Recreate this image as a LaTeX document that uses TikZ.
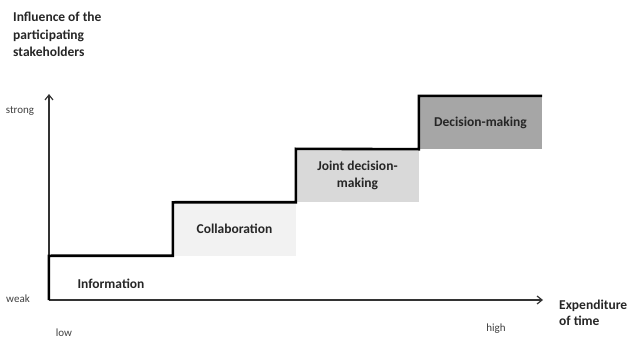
\documentclass[tikz,border=0pt]{standalone}
\usepackage{fontspec}
\setmainfont{Carlito}
\usepackage{tikz}
\usetikzlibrary{arrows.meta,positioning,calc}

\definecolor{collabgray}{HTML}{F2F2F2}
\definecolor{jointgray}{HTML}{D9D9D9}
\definecolor{decisiongray}{HTML}{A6A6A6}

\begin{document}
\begin{tikzpicture}[x=1pt, y=-1pt,
  stair/.style={rectangle, inner sep=0pt, minimum width=123pt, minimum height=53pt,
    align=center, font=\fontsize{13.5}{17}\selectfont\bfseries, text=black!85},
  axis/.style={line width=1.2pt, black!80, -{Straight Barb[length=5pt,width=8pt]}},
  stepline/.style={line width=2.6pt, black, line join=miter},
  tick/.style={inner sep=0pt, font=\fontsize{11}{13}\selectfont, text=black!75}]
\useasboundingbox (0,0) rectangle (630,340);

% boxes of the steps
\node[stair, minimum width=124pt, minimum height=44pt] (info) at (111,278) {};
\node[stair, fill=collabgray] (collab) at (234.5,229) {Collaboration};
\node[stair, fill=jointgray] (joint) at (357.5,175.5) {Joint decision-\\making};
\node[stair, fill=decisiongray] (decision) at (480.5,122.5) {Decision-making};
\node[stair, minimum width=0pt, minimum height=0pt] (infotext) at ([yshift=-6pt]info.center) {Information};

% axes
\coordinate (origin) at (49,300);
\coordinate (ytop) at (49,94);
\coordinate (xend) at (543,300);
\draw[axis] (origin) -- (ytop);
\draw[axis] (origin) -- (xend);

% stairs
\draw[stepline] (info.south west) -- (info.north west) -- (collab.south west)
  -- (collab.north west) -- (joint.south west) -- (joint.north west)
  -- (decision.south west) -- (decision.north west) -- (decision.north east);

% axis labels
\node[tick] (strong) at (20,111) {strong};
\node[tick] (weak) at (18,299) {weak};
\node[tick] (low) at (64,333) {low};
\node[tick] (high) at (496,329) {high};
\node[anchor=north west, inner sep=0pt, align=left, text=black!85,
  font=\fontsize{13.5}{17.5}\selectfont\bfseries] (yname) at (13,12)
  {Influence of the\\participating\\stakeholders};
\node[anchor=north west, inner sep=0pt, align=left, text=black!85,
  font=\fontsize{13.5}{16}\selectfont\bfseries] (xname) at (559,300)
  {Expenditure\\of time};
\end{tikzpicture}
\end{document}
